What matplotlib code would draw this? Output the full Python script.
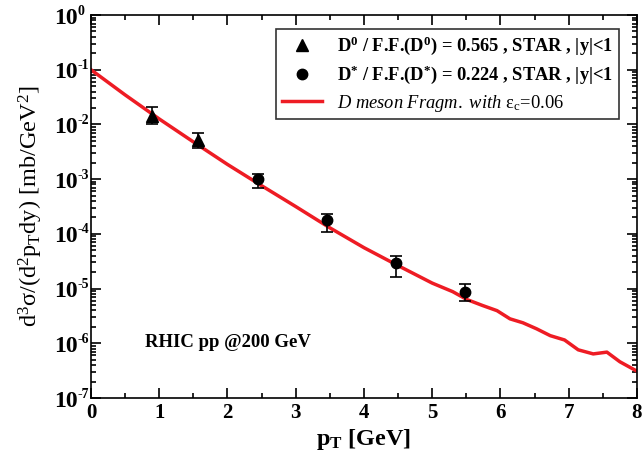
import math
import matplotlib
matplotlib.use('Agg')
import matplotlib.pyplot as plt
from matplotlib.lines import Line2D
from matplotlib.transforms import offset_copy
from matplotlib.ticker import FuncFormatter, LogLocator, MultipleLocator, NullFormatter

plt.rcParams['font.family'] = 'Liberation Serif'
plt.rcParams['mathtext.fontset'] = 'custom'
plt.rcParams['mathtext.rm'] = 'Liberation Serif'
plt.rcParams['mathtext.it'] = 'Liberation Serif:italic'
plt.rcParams['mathtext.bf'] = 'Liberation Serif:bold'

# D0 data (triangles)
d0_pt = [0.90, 1.57]
d0_val = [0.0145, 0.0052]
d0_lo = [0.0102, 0.0037]
d0_hi = [0.0207, 0.0069]

# D* data (circles)
dst_pt = [2.45, 3.46, 4.47, 5.48]
dst_val = [1.0e-3, 1.78e-4, 2.9e-5, 8.8e-6]
dst_lo = [6.9e-4, 1.08e-4, 1.66e-5, 5.9e-6]
dst_hi = [1.26e-3, 2.33e-4, 3.9e-5, 1.2e-5]

# fragmentation curve
curve_pt = [0.0, 0.5, 1.0, 1.5, 2.0, 2.5, 3.0, 3.5, 4.0, 4.5, 5.0, 5.30,
            5.51, 5.74, 5.95, 6.14, 6.33, 6.53, 6.73, 6.94, 7.14, 7.36, 7.56, 7.75, 8.0]
curve_val = [0.1, 0.0347, 0.0126, 4.8e-3, 1.86e-3, 7.6e-4, 3.16e-4, 1.29e-4, 5.6e-5, 2.63e-5,
             1.26e-5, 8.8e-6, 6.3e-6, 4.9e-6, 3.95e-6, 2.8e-6, 2.37e-6, 1.84e-6, 1.38e-6,
             1.15e-6, 7.6e-7, 6.4e-7, 6.9e-7, 4.6e-7, 3.1e-7]

# y decades for tick labels
y_exps = [0, -1, -2, -3, -4, -5, -6, -7]

fig = plt.figure(figsize=(6.44, 4.54), dpi=100)
ax = fig.add_axes([0.1413, 0.1233, 0.8477, 0.8436])

ax.plot(curve_pt, curve_val, color='#ee1c24', lw=2.5, zorder=2)

err0 = [[v - l for v, l in zip(d0_val, d0_lo)], [h - v for v, h in zip(d0_val, d0_hi)]]
ax.errorbar(d0_pt, d0_val, yerr=err0, fmt='^', color='black', ms=9, capsize=4.5,
            elinewidth=1.2, capthick=1.2, zorder=3)
err1 = [[v - l for v, l in zip(dst_val, dst_lo)], [h - v for v, h in zip(dst_val, dst_hi)]]
ax.errorbar(dst_pt, dst_val, yerr=err1, fmt='o', color='black', ms=7.5, capsize=4.5,
            elinewidth=1.2, capthick=1.2, zorder=3)

ax.set_yscale('log')
ax.set_xlim(0, 8)
ax.set_ylim(1e-7, 1)

ax.xaxis.set_major_locator(MultipleLocator(1))
ax.xaxis.set_minor_locator(MultipleLocator(0.5))
ax.xaxis.set_major_formatter(FuncFormatter(lambda v, p: '%d' % round(v)))
ax.yaxis.set_major_locator(LogLocator(base=10, numticks=20))
ax.yaxis.set_minor_locator(LogLocator(base=10, subs=range(2, 10), numticks=20))
ax.yaxis.set_minor_formatter(NullFormatter())
ax.yaxis.set_major_formatter(NullFormatter())

ax.tick_params(which='both', direction='in', top=True, right=True, labelsize=15, width=1.2)
ax.tick_params(which='major', length=7)
ax.tick_params(which='minor', length=3.5)
for lab in ax.get_xticklabels():
    lab.set_fontweight('bold')
for s in ax.spines.values():
    s.set_linewidth(1.2)

# y tick labels: big "10" with a small exponent
ytr = ax.get_yaxis_transform()
base_tr = offset_copy(ytr, fig=fig, x=-13, y=-3, units='dots')
exp_tr = offset_copy(ytr, fig=fig, x=-13, y=4, units='dots')
for e in y_exps:
    ax.text(0, 10.0 ** e, '10', transform=base_tr, ha='right', va='center',
            fontsize=17, fontweight='bold', clip_on=False)
    ax.text(0, 10.0 ** e, ('-%d' % -e) if e < 0 else '0', transform=exp_tr, ha='left',
            va='center', fontsize=10, fontweight='bold', clip_on=False)

ax.set_xlabel(r'p$_{\mathbf{T}}$ [GeV]', fontsize=17.5, fontweight='bold', labelpad=3)
ax.set_ylabel(r'd$^3\mathrm{\sigma}$/(d$^2$p$_\mathrm{T}$dy) [mb/GeV$^2$]', fontsize=17.5)
ax.yaxis.set_label_coords(-0.084, 0.5)

ax.text(0.79, 8.5e-7, 'RHIC pp @200 GeV', fontsize=13.5, fontweight='bold', va='baseline')

handles = [
    Line2D([], [], marker='^', color='black', ms=9, linestyle='none'),
    Line2D([], [], marker='o', color='black', ms=7.5, linestyle='none'),
    Line2D([], [], color='#ee1c24', lw=2.5),
]
labels = [
    r'D$^{\mathbf{0}}$ / F.F.(D$^{\mathbf{0}}$) = 0.565 , STAR , |y|<1',
    r'D$^{\mathbf{*}}$ / F.F.(D$^{\mathbf{*}}$) = 0.224 , STAR , |y|<1',
    r'$\mathit{D\ meson\ Fragm.\ with}\ \mathrm{\varepsilon_c\!=\!0.06}$',
]
leg = ax.legend(handles, labels, loc='upper right', bbox_to_anchor=(0.967, 0.9634),
                fontsize=13.3, frameon=True, fancybox=False, edgecolor='black',
                handlelength=2.2, borderpad=0.3, labelspacing=0.35, handletextpad=0.8,
                borderaxespad=0)
leg.get_frame().set_linewidth(1.2)
for t in leg.get_texts()[:2]:
    t.set_fontweight('bold')

fig.savefig('out.png', dpi=100)
